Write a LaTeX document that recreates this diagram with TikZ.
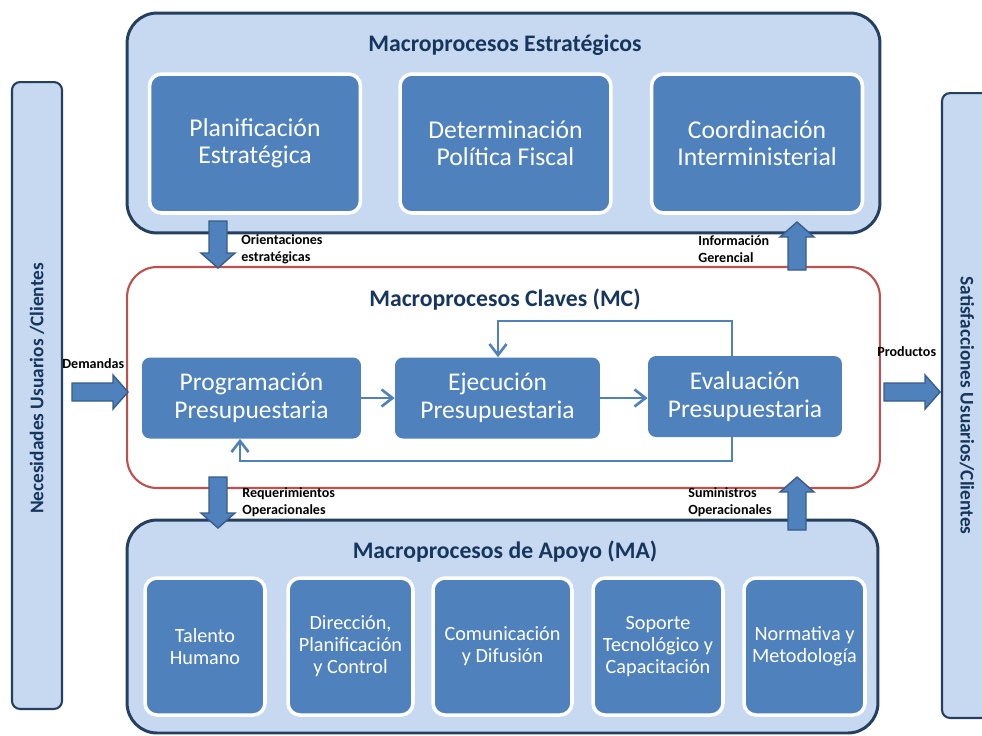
\documentclass[tikz,border=0pt]{standalone}
\usepackage{fontspec}
\setmainfont{Carlito}
\usetikzlibrary{arrows.meta,calc}

\definecolor{panelfill}{HTML}{C6D9F1}
\definecolor{panelline}{HTML}{243F60}
\definecolor{boxblue}{HTML}{4F81BD}
\definecolor{arrowline}{HTML}{385D8A}
\definecolor{keyred}{HTML}{C0504D}
\definecolor{titlenavy}{HTML}{17365D}

\begin{document}
\begin{tikzpicture}[x=0.02cm, y=-0.02cm,
  panel/.style={draw=panelline, line width=1.7pt, fill=panelfill, rounded corners=0.6cm, inner sep=0pt},
  keypanel/.style={draw=keyred, line width=1.2pt, fill=white, rounded corners=0.6cm, inner sep=0pt},
  sidebar/.style={draw=panelline, line width=1.2pt, fill=panelfill, rounded corners=0.16cm, minimum height=1cm, inner sep=0pt, text=titlenavy, font=\fontsize{11}{13}\selectfont\bfseries},
  paneltitle/.style={text=titlenavy, inner sep=0pt, font=\fontsize{13.5}{16}\selectfont\bfseries},
  stratbox/.style={fill=boxblue, draw=white, line width=2pt, rounded corners=0.24cm, minimum width=4.22cm, minimum height=2.78cm, text=white, align=center, font=\fontsize{14.6}{15.5}\selectfont},
  keybox/.style={fill=boxblue, rounded corners=0.16cm, minimum height=1.62cm, text=white, align=center, font=\fontsize{14.5}{16}\selectfont},
  supbox/.style={fill=boxblue, draw=white, line width=2pt, rounded corners=0.24cm, minimum height=2.74cm, text=white, align=center, font=\fontsize{11.5}{12.5}\selectfont},
  fb/.style={draw=boxblue, line width=1.5pt, -{Straight Barb[length=0.22cm,width=0.34cm]}},
  flowlbl/.style={anchor=west, align=left, inner sep=0pt, font=\fontsize{8}{9.6}\selectfont\bfseries},
  fatarrow/.style={fill=boxblue, draw=arrowline, line width=0.8pt, to path={
    ($(\tikztostart)!0.18cm!90:(\tikztotarget)$)
    -- ($(\tikztotarget)!0.3cm!(\tikztostart)!0.18cm!-90:(\tikztostart)$)
    -- ($(\tikztotarget)!0.3cm!(\tikztostart)!0.34cm!-90:(\tikztostart)$)
    -- (\tikztotarget)
    -- ($(\tikztotarget)!0.3cm!(\tikztostart)!0.34cm!90:(\tikztostart)$)
    -- ($(\tikztotarget)!0.3cm!(\tikztostart)!0.18cm!90:(\tikztostart)$)
    -- ($(\tikztostart)!0.18cm!-90:(\tikztotarget)$)
    -- cycle}}
]
  \path[use as bounding box, fill=white] (0,0) rectangle (982,735);

  % users on both sides
  \node[sidebar, rotate=90, minimum width=12.54cm] (needs) at (37,395.5) {\hspace{8pt}Necesidades Usuarios /Clientes};
  \node[sidebar, rotate=-90, minimum width=12.5cm] (sats) at (967,405.5) {Satisfacciones Usuarios/Clientes};

  % strategic
  \node[panel, minimum width=15.06cm, minimum height=4.4cm] (strat) at (503.5,123) {};
  \node[paneltitle] (stratT) at (505,45) {Macroprocesos Estratégicos};
  \node[stratbox] (plan) at (255,143.5) {Planificación\\Estratégica};
  \node[stratbox] (polit) at (505.5,143.5) {Determinación\\Política Fiscal};
  \node[stratbox] (coord) at (757,143.5) {Coordinación\\Interministerial};

  % key
  \node[keypanel, minimum width=15.06cm, minimum height=4.42cm] (key) at (503.5,377.5) {};
  \node[paneltitle] (keyT) at (505,300) {Macroprocesos Claves (MC)};
  \node[keybox, minimum width=4.38cm] (prog) at (251.5,398) {Programación\\Presupuestaria};
  \node[keybox, minimum width=4.1cm] (ejec) at (497.5,398) {Ejecución\\Presupuestaria};
  \node[keybox, minimum width=3.88cm] (eval) at (745,396.5) {Evaluación\\Presupuestaria};

  % support
  \node[panel, minimum width=15.02cm, minimum height=4.26cm] (supp) at (502.5,626.5) {};
  \node[paneltitle] (suppT) at (505,552) {Macroprocesos de Apoyo (MA)};
  \node[supbox, minimum width=2.4cm] (tal) at (205,646.5) {Talento\\Humano};
  \node[supbox, minimum width=2.5cm] (dir) at (350.5,646.5) {Dirección,\\Planificación\\y Control};
  \node[supbox, minimum width=2.78cm] (com) at (502.5,646.5) {Comunicación\\y Difusión};
  \node[supbox, minimum width=2.6cm] (sop) at (658,646.5) {Soporte\\Tecnológico y\\Capacitación};
  \node[supbox, minimum width=2.42cm] (norm) at (804.5,646.5) {Normativa y\\Metodología};

  % budget cycle
  \draw[fb] (prog.east) -- (ejec.west);
  \draw[fb] (ejec.east) -- (eval.west |- ejec.east);
  \coordinate (loopR) at (732,321);
  \coordinate (loopL) at (498,321);
  \draw[fb] (eval.north -| loopR) -- (loopR) -- (loopL) -- (ejec.north -| loopL);
  \coordinate (backR) at (732,461);
  \coordinate (backL) at (240,461);
  \draw[fb] (eval.south -| backR) -- (backR) -- (backL) -- (prog.south -| backL);

  % flows between levels
  \coordinate (oriS) at (218,221);
  \coordinate (oriT) at (218,268);
  \coordinate (infS) at (797,270);
  \coordinate (infT) at (797,222);
  \coordinate (reqS) at (218,477);
  \coordinate (reqT) at (218,528);
  \coordinate (sumS) at (797,530);
  \coordinate (sumT) at (797,477);
  \coordinate (demS) at (72,392);
  \coordinate (demT) at (128,392);
  \coordinate (proS) at (884,392);
  \coordinate (proT) at (940,392);
  \draw[fatarrow] (oriS) to (oriT);
  \draw[fatarrow] (infS) to (infT);
  \draw[fatarrow] (reqS) to (reqT);
  \draw[fatarrow] (sumS) to (sumT);
  \draw[fatarrow] (demS) to (demT);
  \draw[fatarrow] (proS) to (proT);

  \node[flowlbl] (oriL) at (241,249.5) {Orientaciones\\estratégicas};
  \node[flowlbl] (infL) at (698,249.5) {Información\\Gerencial};
  \node[flowlbl] (reqL) at (242,502.5) {Requerimientos\\Operacionales};
  \node[flowlbl] (sumL) at (688,502) {Suministros\\Operacionales};
  \node[flowlbl] (demL) at (62,364) {Demandas};
  \node[flowlbl] (proL) at (877,352) {Productos};
\end{tikzpicture}
\end{document}
